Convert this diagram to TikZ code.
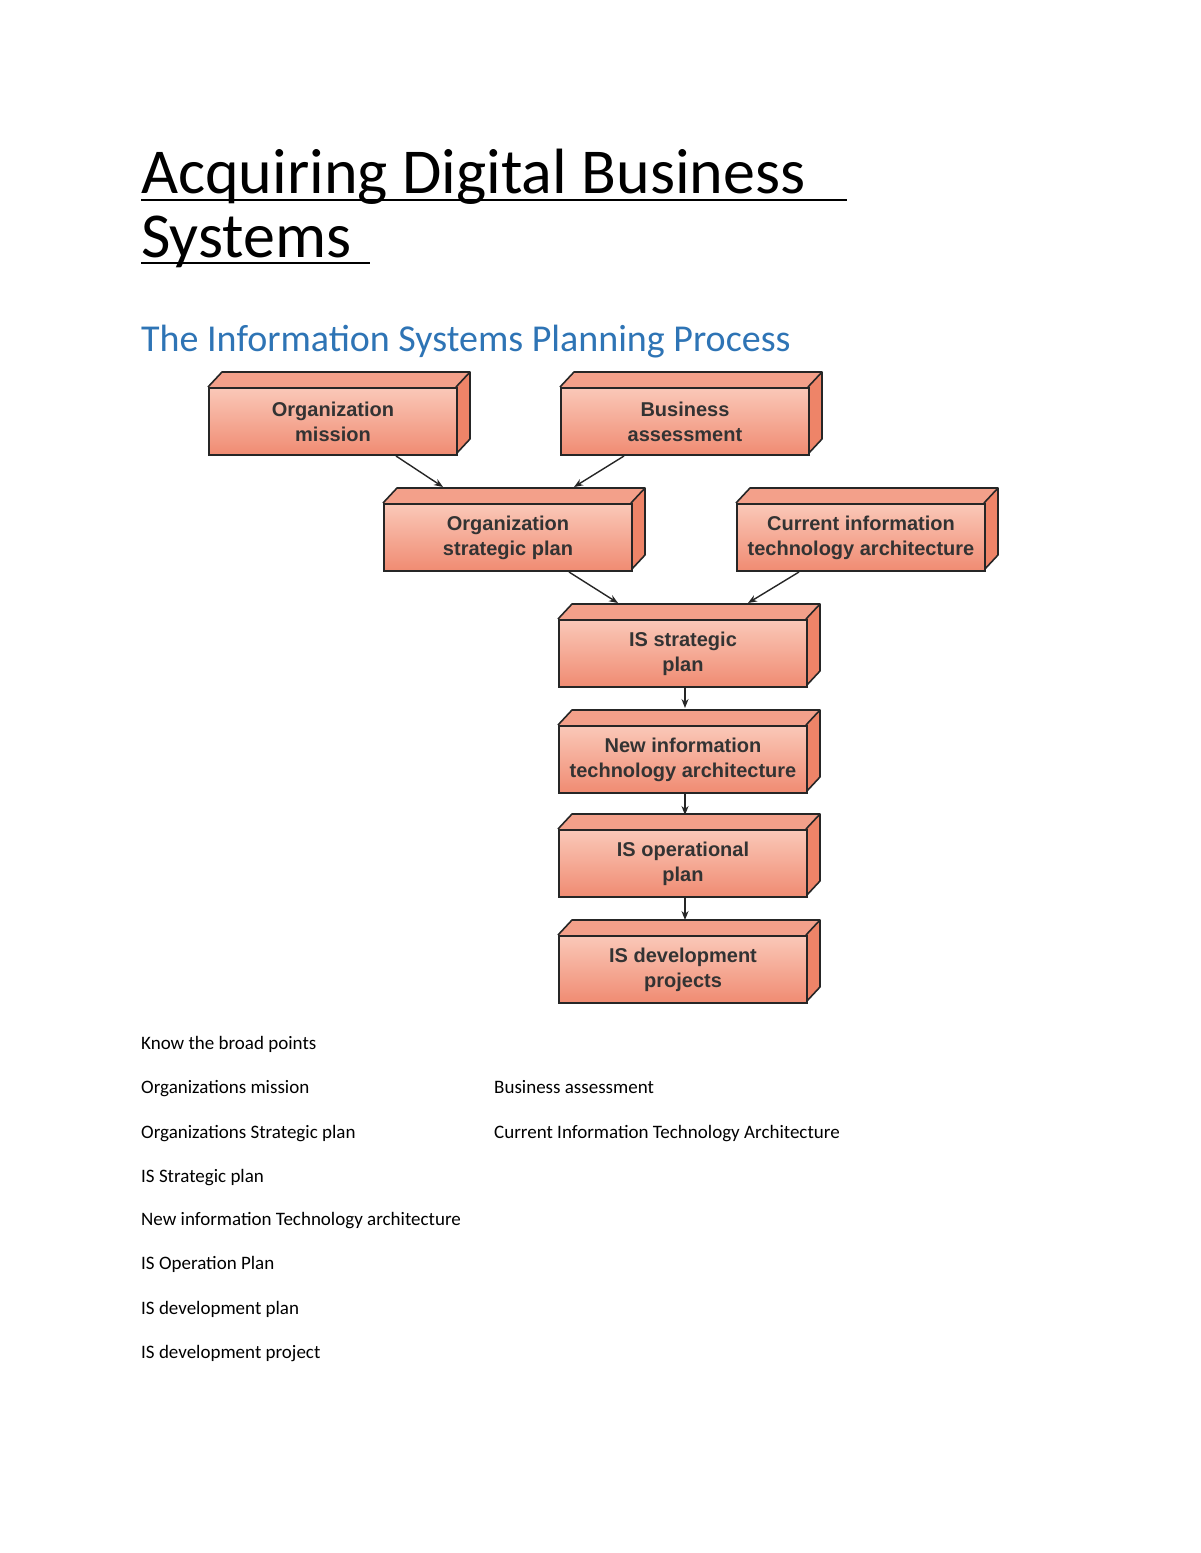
\documentclass[tikz,border=0pt]{standalone}
\usepackage{fontspec}
\setmainfont{Carlito}
\newfontfamily\boxfont{Liberation Sans}
\usetikzlibrary{arrows.meta}
\definecolor{salmon}{HTML}{F08B72}
\definecolor{pinklight}{HTML}{FAC8B8}
\definecolor{topface}{HTML}{F3A08A}
\definecolor{sideface}{HTML}{EE8468}
\definecolor{headblue}{HTML}{2E74B5}
\tikzset{
  cubefront/.style={draw=black!85,line width=2pt,top color=pinklight,bottom color=salmon,minimum width=248pt,minimum height=67pt,inner sep=0pt,align=center,font=\boxfont\bfseries\fontsize{20}{25}\selectfont,text=black!80},
  cubeface/.style={draw=black!85,line width=1.6pt,line join=round},
  link/.style={draw=black!85,line width=1.4pt,-{Stealth[length=9pt,width=7pt]}},
  body/.style={anchor=base west,inner sep=0pt,font=\fontsize{19}{23}\selectfont},
}
\newcommand{\mycube}[4]{% name, left x, top y, text
  \fill[topface] (#2,#3) -- ++(14,-15) -- ++(248,0) -- ++(-14,15) -- cycle;
  \fill[sideface] (#2+248,#3) -- ++(14,-15) -- ++(0,67) -- ++(-14,15) -- cycle;
  \draw[cubeface] (#2,#3) -- ++(14,-15) -- ++(248,0) -- ++(0,67) -- ++(-14,15);
  \draw[cubeface] (#2+248,#3) -- ++(14,-15);
  \node[cubefront,anchor=north west] (#1) at (#2,#3) {#4};
  \coordinate (#1top) at (#2+131,#3-15);
}
\begin{document}
\begin{tikzpicture}[x=1pt,y=-1pt]
\useasboundingbox (0,0) rectangle (1200,1553);
\node[anchor=base west,inner sep=0pt,font=\fontsize{64}{64}\selectfont] (t1) at (141,193) {Acquiring Digital Business };
\node[anchor=base west,inner sep=0pt,font=\fontsize{64}{64}\selectfont] (t2) at (141,257) {Systems};
\draw[line width=2.5pt] (141,200) -- (847,200);
\draw[line width=2.5pt] (141,263) -- (370,263);
\node[anchor=base west,inner sep=0pt,font=\fontsize{38}{38}\selectfont,text=headblue] (sub) at (141,351) {The Information Systems Planning Process};

\mycube{om}{208}{387}{Organization\\mission}
\mycube{ba}{560}{387}{Business\\assessment}
\mycube{osp}{383}{503}{Organization\\strategic plan}
\mycube{cit}{736}{503}{Current information\\technology architecture}
\mycube{iss}{558}{619}{IS strategic\\plan}
\mycube{nit}{558}{725}{New information\\technology architecture}
\mycube{iso}{558}{829}{IS operational\\plan}
\mycube{isd}{558}{935}{IS development\\projects}

\draw[link] (om.south)++(63,0) coordinate (a1) -- (443,487);
\draw[link] (ba.south)++(-61,0) -- (574,487);
\draw[link] (osp.south)++(61,0) -- (618,603);
\draw[link] (cit.south)++(-62,0) -- (748,603);
\draw[link] (iss.south)++(2,0) -- ++(0,20);
\draw[link] (nit.south)++(2,0) -- ++(0,21);
\draw[link] (iso.south)++(2,0) -- ++(0,22);

\node[body] (k) at (141,1049) {Know the broad points};
\node[body] (b1) at (141,1093) {Organizations mission};
\node[body] (b2) at (494,1093) {Business assessment};
\node[body] (b3) at (141,1138) {Organizations Strategic plan};
\node[body] (b4) at (494,1138) {Current Information Technology Architecture};
\node[body] (b5) at (141,1182) {IS Strategic plan};
\node[body] (b6) at (141,1225) {New information Technology architecture};
\node[body] (b7) at (141,1269) {IS Operation Plan};
\node[body] (b8) at (141,1314) {IS development plan};
\node[body] (b9) at (141,1358) {IS development project};
\end{tikzpicture}
\end{document}
